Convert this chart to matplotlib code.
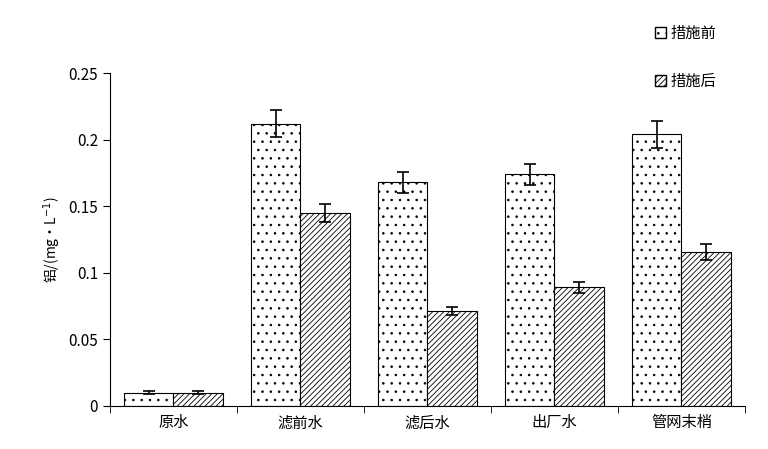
import matplotlib
matplotlib.use('Agg')
import matplotlib.pyplot as plt
import numpy as np
from matplotlib.patches import Patch

plt.rcParams['font.family'] = ['Noto Sans CJK SC', 'DejaVu Sans']
plt.rcParams['hatch.linewidth'] = 0.6

categories = ['原水', '滤前水', '滤后水', '出厂水', '管网末梢']
before = [0.010, 0.212, 0.168, 0.174, 0.204]
after = [0.010, 0.145, 0.071, 0.089, 0.116]
err_before = [0.001, 0.010, 0.008, 0.008, 0.010]
err_after = [0.001, 0.007, 0.003, 0.004, 0.006]
series_names = ['措施前', '措施后']

fig = plt.figure(figsize=(7.68, 4.49), dpi=100)
ax = fig.add_axes([0.143, 0.096, 0.827, 0.741])

x = np.arange(len(categories))
w = 0.39
ax.bar(x - w / 2, before, w, color='white', edgecolor='black', hatch='..',
       linewidth=0.8, yerr=err_before, capsize=4.5,
       error_kw=dict(elinewidth=1.2, capthick=1.2))
ax.bar(x + w / 2, after, w, color='white', edgecolor='black', hatch='//////',
       linewidth=0.8, yerr=err_after, capsize=4.5,
       error_kw=dict(elinewidth=1.2, capthick=1.2))

ax.set_xlim(-0.5, len(categories) - 0.5)
ax.set_ylim(0, 0.25)
ax.set_yticks([0, 0.05, 0.1, 0.15, 0.2, 0.25])
ax.set_yticklabels(['0', '0.05', '0.1', '0.15', '0.2', '0.25'])
ax.set_xticks(x)
ax.set_xticklabels(categories, fontsize=11)
ax.set_xticks(np.arange(-0.5, len(categories)), minor=True)
ax.tick_params(axis='x', which='major', length=0, pad=6)
ax.tick_params(axis='x', which='minor', length=5, direction='out')
ax.tick_params(axis='y', direction='out', length=5, labelsize=11)
ax.spines['top'].set_visible(False)
ax.spines['right'].set_visible(False)
ax.set_ylabel('铝/(mg·L$^{-1}$)', fontsize=10)

handles = [Patch(facecolor='white', edgecolor='black', hatch='..'),
           Patch(facecolor='white', edgecolor='black', hatch='//////')]
fig.legend(handles, series_names, loc='upper left', bbox_to_anchor=(0.835, 0.975),
           frameon=False, fontsize=11, handlelength=0.7, handleheight=0.7,
           labelspacing=2.0, handletextpad=0.3)

fig.savefig('out.png', dpi=100)
